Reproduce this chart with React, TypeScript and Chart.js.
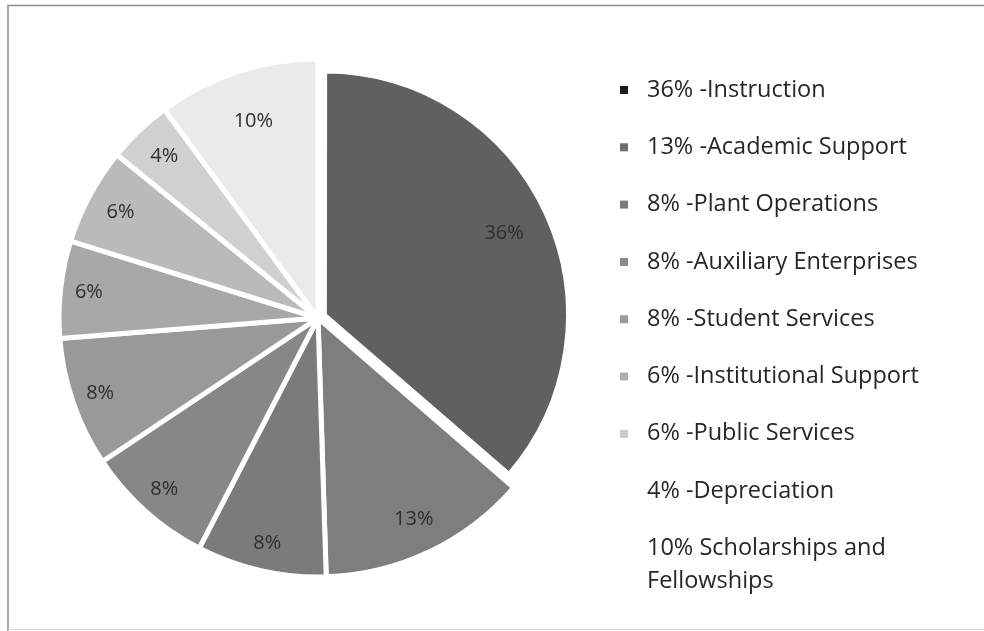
import React, { useEffect, useRef } from "react";
import { Chart, registerables } from "chart.js";

Chart.register(...registerables);

// ---- data ----
const categories = [
  "Instruction",
  "Academic Support",
  "Plant Operations",
  "Auxiliary Enterprises",
  "Student Services",
  "Institutional Support",
  "Public Services",
  "Depreciation",
  "Scholarships and Fellowships",
];
const shares = [36, 13, 8, 8, 8, 6, 6, 4, 10];
const legendLabels = [
  "36% -Instruction",
  "13% -Academic Support",
  "8% -Plant Operations",
  "8% -Auxiliary Enterprises",
  "8% -Student Services",
  "6% -Institutional Support",
  "6% -Public Services",
  "4% -Depreciation",
  "10% Scholarships and Fellowships",
];
const sliceLabels = shares.map((v) => `${v}%`);

// ---- styles ----
const sliceColors = [
  "#606060",
  "#7e7e7e",
  "#7b7b7b",
  "#878787",
  "#999999",
  "#a8a8a8",
  "#bababa",
  "#d0d0d0",
  "#eaeaea",
];
const markerColors = [
  "#1c1c1c",
  "#6e6e6e",
  "#7c7c7c",
  "#8a8a8a",
  "#9c9c9c",
  "#b0b0b0",
  "#cbcbcb",
  "rgba(0,0,0,0)",
  "rgba(0,0,0,0)",
];
const sliceOffsets = [28, 0, 0, 0, 0, 0, 0, 0, 0];
const labelRadiusFactors = [0.815, 0.86, 0.89, 0.89, 0.89, 0.89, 0.865, 0.86, 0.8];
const FONT = "'Open Sans', Lato, sans-serif";

const framePlugin = {
  id: "frame",
  beforeDraw(chart: any) {
    const { ctx, width, height } = chart;
    ctx.save();
    ctx.fillStyle = "#ffffff";
    ctx.fillRect(0, 0, width, height);
    ctx.strokeStyle = "#8a8a8a";
    ctx.lineWidth = 1.5;
    ctx.beginPath();
    ctx.moveTo(8, height);
    ctx.lineTo(8, 5.5);
    ctx.lineTo(width, 5.5);
    ctx.stroke();
    ctx.strokeStyle = "#d4d4d4";
    ctx.lineWidth = 1;
    ctx.beginPath();
    ctx.moveTo(8, height - 1.5);
    ctx.lineTo(width, height - 1.5);
    ctx.stroke();
    ctx.restore();
  },
};

const shrinkExplodedPlugin = {
  id: "shrinkExploded",
  afterDatasetsUpdate(chart: any) {
    const meta = chart.getDatasetMeta(0);
    const el = meta.data[0];
    if (el) el.outerRadius = el.outerRadius * 0.936;
  },
};

const sliceLabelPlugin = {
  id: "sliceLabels",
  afterDatasetsDraw(chart: any) {
    const { ctx } = chart;
    const meta = chart.getDatasetMeta(0);
    ctx.save();
    ctx.font = `20px ${FONT}`;
    ctx.fillStyle = "#2e2e2e";
    ctx.textAlign = "center";
    ctx.textBaseline = "middle";
    meta.data.forEach((el: any, i: number) => {
      const mid = (el.startAngle + el.endAngle) / 2;
      const off = (el.options.offset || 0) / 4;
      const r = el.outerRadius * labelRadiusFactors[i] + off;
      ctx.fillText(sliceLabels[i], el.x + Math.cos(mid) * r, el.y + Math.sin(mid) * r);
    });
    ctx.restore();
  },
};

const legendPlugin = {
  id: "sideLegend",
  afterDraw(chart: any) {
    const { ctx } = chart;
    const x0 = 620;
    const textX = 647;
    const y0 = 90;
    const step = 57.3;
    const lineH = 33;
    const maxW = 300;
    ctx.save();
    ctx.font = `23.5px ${FONT}`;
    ctx.textBaseline = "middle";
    legendLabels.forEach((label, i) => {
      const y = y0 + i * step;
      ctx.fillStyle = markerColors[i];
      ctx.fillRect(x0, y - 4, 8, 8);
      ctx.fillStyle = "#262626";
      const words = label.split(" ");
      const lines: string[] = [];
      let cur = "";
      words.forEach((w) => {
        const test = cur ? cur + " " + w : w;
        if (ctx.measureText(test).width > maxW && cur) {
          lines.push(cur);
          cur = w;
        } else cur = test;
      });
      if (cur) lines.push(cur);
      lines.forEach((ln, k) => ctx.fillText(ln, textX, y + k * lineH));
    });
    ctx.restore();
  },
};

export default function App() {
  const ref = useRef<HTMLCanvasElement | null>(null);
  useEffect(() => {
    if (!ref.current) return;
    const chart = new Chart(ref.current, {
      type: "pie",
      data: {
        labels: categories,
        datasets: [
          {
            data: shares,
            backgroundColor: sliceColors,
            borderColor: "#ffffff",
            borderWidth: 5,
            offset: sliceOffsets,
            radius: 259,
          } as any,
        ],
      },
      options: {
        responsive: false,
        animation: false,
        devicePixelRatio: 1,
        layout: { padding: { left: 0, right: 348, top: 5, bottom: 0 } },
        plugins: {
          legend: { display: false },
          tooltip: { enabled: false },
        },
      },
      plugins: [framePlugin, shrinkExplodedPlugin, sliceLabelPlugin, legendPlugin],
    });
    return () => chart.destroy();
  }, []);
  return (
    <div style={{ position: "fixed", left: 0, top: 0, width: 984, height: 631, background: "#fff" }}>
      <canvas ref={ref} width={984} height={631} style={{ display: "block" }} />
    </div>
  );
}
